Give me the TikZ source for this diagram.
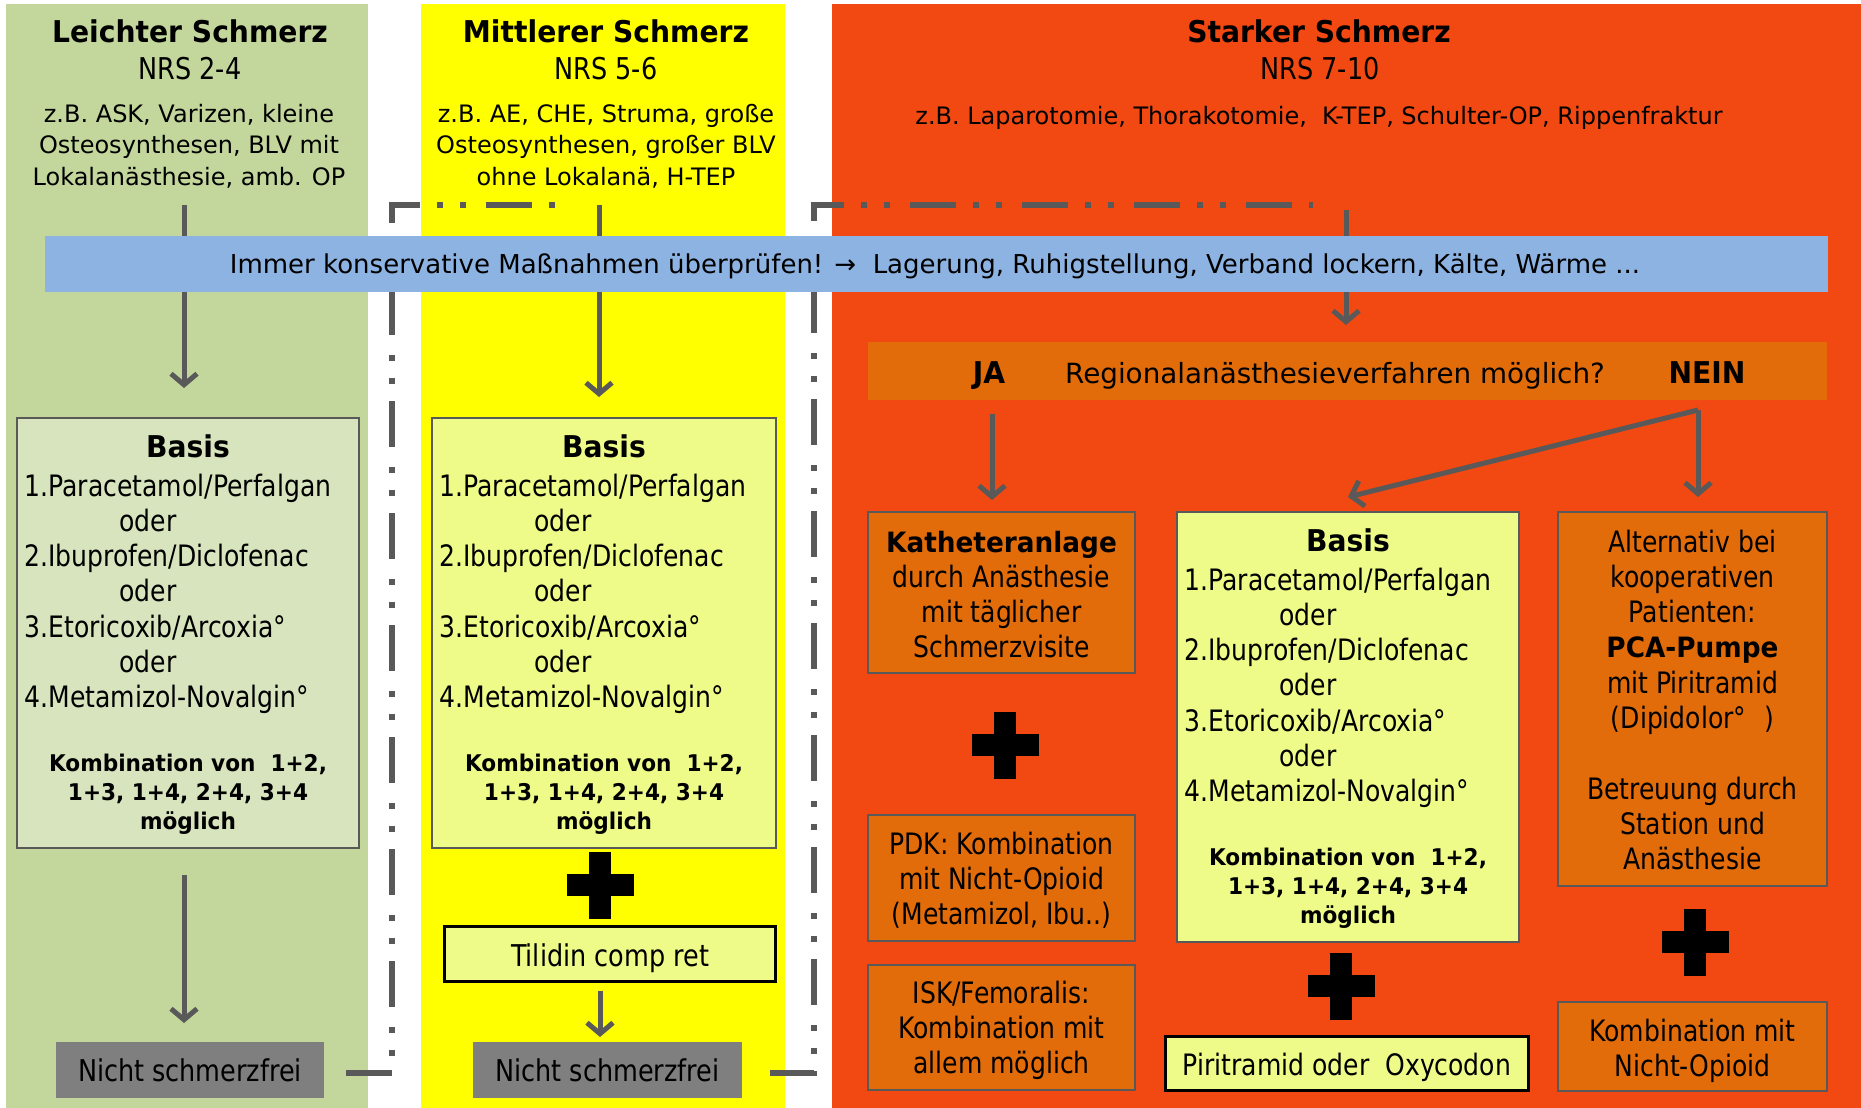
\documentclass[tikz,border=0pt]{standalone}
\usepackage{fontspec}
\setmainfont{DejaVu Sans}[FakeStretch=0.85,BoldFeatures={FakeStretch=0.94}]
\newfontfamily\verd{DejaVu Sans}
\usetikzlibrary{arrows.meta,calc}
\definecolor{colgreen}{HTML}{C3D69B}
\definecolor{boxgreen}{HTML}{D7E4BD}
\definecolor{colyellow}{HTML}{FFFF00}
\definecolor{boxyellow}{HTML}{EEFB89}
\definecolor{colred}{HTML}{F24811}
\definecolor{boxorange}{HTML}{E36C0A}
\definecolor{barblue}{HTML}{8DB3E2}
\definecolor{grayfill}{HTML}{7F7F7F}
\definecolor{linegray}{HTML}{595959}
\newcommand\fBig{\fontsize{29.5}{35.3}\selectfont}
\newcommand\fHead{\fontsize{30}{36}\selectfont\bfseries}
\newcommand\fNrs{\fontsize{30}{36}\selectfont}
\newcommand\fQ{\verd\fontsize{27.8}{34}\selectfont}
\newcommand\fDesc{\verd\fontsize{24}{31.5}\selectfont}
\newcommand\fBar{\verd\fontsize{26}{31}\selectfont}
\newcommand\fKomb{\fontsize{23}{29}\selectfont\bfseries}
\newcommand\bword[1]{{\fontsize{28}{35.3}\selectfont\bfseries #1}}
\tikzset{
  txt/.style={inner sep=0pt, outer sep=0pt, align=center, text=black},
  boxframe/.style={draw=linegray, line width=2pt, inner sep=0pt, outer sep=0pt},
  blackframe/.style={draw=black, line width=3pt, inner sep=0pt, outer sep=0pt},
  grayrect/.style={fill=grayfill, inner sep=0pt, outer sep=0pt},
  arr/.style={draw=linegray, line width=5pt, -{Straight Barb[length=11pt,width=26pt]}},
  dashdot/.style={draw=linegray, line width=6pt, dash pattern=on 46pt off 17pt on 6pt off 17pt on 6pt off 20pt},
  plusmark/.pic={\fill[black] (-11,-33.5) rectangle (11,33.5); \fill[black] (-33.5,-11) rectangle (33.5,11);}
}
% multi-line nodes: anchor=base is the baseline of the LAST line
\newcommand\basisblock[5]{%
  \node[boxframe, fill=#5, minimum width=#4, minimum height=430, anchor=north west] (#1) at (#2,#3) {};
  \node[txt, font=\fHead, anchor=base] (#1t) at ($(#1.north)+(0,39)$) {Basis};
  \node[txt, align=left, font=\fBig, anchor=base west] (#1l) at ($(#1.north west)+(7.5,289.8)$)
    {1.Paracetamol/Perfalgan\\\hspace*{95pt}oder\\2.Ibuprofen/Diclofenac\\\hspace*{95pt}oder\\3.Etoricoxib/Arcoxia°\\\hspace*{95pt}oder\\4.Metamizol-Novalgin°};
  \node[txt, font=\fKomb, anchor=base] (#1k) at ($(#1.north)+(0,411)$) {Kombination von\ \ 1+2,\\1+3, 1+4, 2+4, 3+4\\möglich};
}
\begin{document}
\begin{tikzpicture}[x=1pt,y=-1pt]
\useasboundingbox (0,0) rectangle (1861,1108);
\fill[white] (0,0) rectangle (1861,1108);
% columns
\fill[colgreen] (6,4) rectangle (368,1108);
\fill[colyellow] (421,4) rectangle (785,1108);
\fill[colred] (832,4) rectangle (1861,1108);
% headers
\node[txt, font=\fHead, anchor=base] (hG) at (190,43) {Leichter Schmerz};
\node[txt, font=\fNrs, anchor=base] (nrsG) at (190,80) {NRS 2-4};
\node[txt, font=\fDesc, anchor=base] (dG) at (189,185) {z.B. ASK, Varizen, kleine\\Osteosynthesen, BLV mit\\Lokalanästhesie, amb. OP};
\node[txt, font=\fHead, anchor=base] (hY) at (606,43) {Mittlerer Schmerz};
\node[txt, font=\fNrs, anchor=base] (nrsY) at (606,80) {NRS 5-6};
\node[txt, font=\fDesc, anchor=base] (dY) at (606,185) {z.B. AE, CHE, Struma, große\\Osteosynthesen, großer BLV\\ohne Lokalanä, H-TEP};
\node[txt, font=\fHead, anchor=base] (hR) at (1319,43) {Starker Schmerz};
\node[txt, font=\fNrs, anchor=base] (nrsR) at (1320,80) {NRS 7-10};
\node[txt, font=\fDesc, anchor=base] (dR) at (1319,124) {z.B. Laparotomie, Thorakotomie,\ \ K-TEP, Schulter-OP, Rippenfraktur};
% boxes
\basisblock{bG}{17}{418}{342}{boxgreen}
\basisblock{bY}{432}{418}{344}{boxyellow}
\basisblock{bR}{1177}{512}{342}{boxyellow}
\node[grayrect, minimum width=268, minimum height=56] (ngG) at (190,1070) {};
\node[txt, font=\fNrs, anchor=base] at (190,1081) {Nicht schmerzfrei};
\node[grayrect, minimum width=269, minimum height=56] (ngY) at (607.5,1070) {};
\node[txt, font=\fNrs, anchor=base] at (607.5,1081) {Nicht schmerzfrei};
\node[blackframe, fill=boxyellow, minimum width=331, minimum height=55] (til) at (609.5,953.5) {};
\node[txt, font=\fNrs, anchor=base] at (610,966) {Tilidin comp ret};
% red column boxes
\node[fill=boxorange, inner sep=0pt, outer sep=0pt, minimum width=959, minimum height=58] (q) at (1347.5,371) {};
\node[txt, font=\fHead, anchor=base] (ja) at (989,383) {JA};
\node[txt, font=\fQ, anchor=base] (qt) at (1335,383) {Regionalanästhesieverfahren möglich?};
\node[txt, font=\fHead, anchor=base] (nein) at (1707,383) {NEIN};
\node[boxframe, fill=boxorange, minimum width=267, minimum height=161] (kath) at (1001.5,592.5) {};
\node[txt, font=\fBig, anchor=base] at (1001.5,657.9) {\bword{Katheteranlage}\\durch Anästhesie\\mit täglicher\\Schmerzvisite};
\node[boxframe, fill=boxorange, minimum width=269, minimum height=374] (alt) at (1692.5,699) {};
\node[txt, font=\fBig, anchor=base] at (1692.5,869.7) {Alternativ bei\\kooperativen\\Patienten:\\\bword{PCA-Pumpe}\\mit Piritramid\\(Dipidolor°\hspace{18pt})\\[35.3pt]Betreuung durch\\Station und\\Anästhesie};
\node[boxframe, fill=boxorange, minimum width=267, minimum height=126] (pdk) at (1001.5,878) {};
\node[txt, font=\fBig, anchor=base] at (1001.5,924.6) {PDK: Kombination\\mit Nicht-Opioid\\(Metamizol, Ibu..)};
\node[boxframe, fill=boxorange, minimum width=267, minimum height=125] (isk) at (1001.5,1027.5) {};
\node[txt, font=\fBig, anchor=base] at (1001.5,1073.6) {ISK/Femoralis:\\Kombination mit\\allem möglich};
\node[blackframe, fill=boxyellow, minimum width=363, minimum height=54] (piri) at (1346.5,1063) {};
\node[txt, font=\fBig, anchor=base] at (1347,1075) {Piritramid oder\ \ Oxycodon};
\node[boxframe, fill=boxorange, minimum width=269, minimum height=89] (kombi) at (1692.5,1046.5) {};
\node[txt, font=\fBig, anchor=base] at (1692.5,1076.3) {Kombination mit\\Nicht-Opioid};
% plus signs
\pic at (600,885) {plusmark};
\pic at (1005,745) {plusmark};
\pic at (1341,986) {plusmark};
\pic at (1695,942) {plusmark};
% dash-dot return paths
\coordinate (cA) at (392,205);
\coordinate (cB) at (814,205);
\draw[dashdot] ([xshift=22pt]ngG.east |- 0,1073) -| (cA) -- (570,205);
\draw[dashdot] ([xshift=28pt]ngY.east |- 0,1073) -| (cB) -- (1313,205);
% arrows
\coordinate (aG) at (184,205);
\coordinate (aY) at (599,205);
\coordinate (aR) at (1346,210);
\draw[arr, shorten >=30pt] (aG) -- (aG |- bG.north);
\draw[arr, shorten >=21pt] (aY) -- (aY |- bY.north);
\draw[arr, shorten >=17pt] (aR) -- (aR |- q.north);
\draw[arr, shorten <=27pt, shorten >=19pt] (bG.south -| aG) -- (ngG.north -| aG);
\draw[arr, shorten <=10pt, shorten >=5pt] (til.south -| 600,0) -- (ngY.north -| 600,0);
\draw[arr, shorten <=14pt, shorten >=12pt] (q.south -| 992,0) -- (kath.north -| 992,0);
\coordinate (nb) at (1698,410);
\draw[arr, shorten >=15pt] (nb) -- (nb |- alt.north);
\draw[arr] (nb) -- ($(bR.north)+(0,-15)$);
% blue bar on top
\node[fill=barblue, inner sep=0pt, outer sep=0pt, minimum width=1783, minimum height=56] (bar) at (936.5,264) {};
\node[txt, font=\fBar, anchor=base] (bart) at (935,273) {Immer konservative Maßnahmen überprüfen! →\ \ Lagerung, Ruhigstellung, Verband lockern, Kälte, Wärme ...};
\end{tikzpicture}
\end{document}
